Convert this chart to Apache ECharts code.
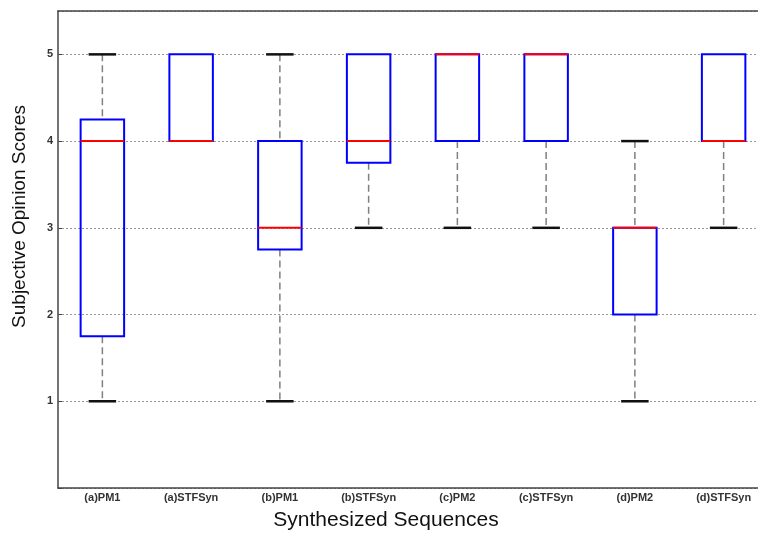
<!DOCTYPE html>
<html lang="en">
<head>
<meta charset="utf-8" />
<title>Subjective opinion scores</title>
<script src="https://cdn.jsdelivr.net/npm/echarts@6/dist/echarts.min.js"></script>
</head>
<body style="margin:0;background:#fff">
<div id="main" style="width:758px;height:540px;"></div>
<script>
// categories and box stats
var sequences = ['(a)PM1', '(a)STFSyn', '(b)PM1', '(b)STFSyn', '(c)PM2', '(c)STFSyn', '(d)PM2', '(d)STFSyn'];
var lowWhisker = [1, 4, 1, 3, 3, 3, 1, 3];
var lowerQuart = [1.75, 4, 2.75, 3.75, 4, 4, 2, 4];
var medians    = [4, 4, 3, 4, 5, 5, 3, 4];
var upperQuart = [4.25, 5, 4, 5, 5, 5, 3, 5];
var highWhisker = [5, 5, 5, 5, 5, 5, 4, 5];

var boxData = sequences.map(function (s, i) {
  return [i, lowWhisker[i], lowerQuart[i], medians[i], upperQuart[i], highWhisker[i]];
});

function drawBox(params, api) {
  var i = api.value(0);
  var bw = api.size([1, 0])[0];
  var half = bw * 0.245;
  var capHalf = bw * 0.155;
  var pMin = api.coord([i, api.value(1)]);
  var pQ1 = api.coord([i, api.value(2)]);
  var pMed = api.coord([i, api.value(3)]);
  var pQ3 = api.coord([i, api.value(4)]);
  var pMax = api.coord([i, api.value(5)]);
  var cx = pMed[0];
  var kids = [];
  var dash = { stroke: '#808080', lineWidth: 1.5, lineDash: [7, 4] };
  var capStyle = { stroke: '#111', lineWidth: 2.5 };
  if (api.value(5) > api.value(4)) {
    kids.push({ type: 'line', shape: { x1: cx, y1: pMax[1], x2: cx, y2: pQ3[1] }, style: dash });
    kids.push({ type: 'line', shape: { x1: cx - capHalf, y1: pMax[1], x2: cx + capHalf, y2: pMax[1] }, style: capStyle });
  }
  if (api.value(1) < api.value(2)) {
    kids.push({ type: 'line', shape: { x1: cx, y1: pQ1[1], x2: cx, y2: pMin[1] }, style: dash });
    kids.push({ type: 'line', shape: { x1: cx - capHalf, y1: pMin[1], x2: cx + capHalf, y2: pMin[1] }, style: capStyle });
  }
  kids.push({ type: 'rect', shape: { x: cx - half, y: pQ3[1], width: half * 2, height: pQ1[1] - pQ3[1] },
    style: { fill: 'none', stroke: '#0000ff', lineWidth: 2 } });
  kids.push({ type: 'line', shape: { x1: cx - half, y1: pMed[1], x2: cx + half, y2: pMed[1] },
    style: { stroke: '#ff0000', lineWidth: 2 } });
  return { type: 'group', children: kids };
}

var myChart = echarts.init(document.getElementById('main'));
var axisColor = '#444';
var option = {
  animation: false,
  backgroundColor: '#fff',
  textStyle: { fontFamily: 'Liberation Sans, Arial, sans-serif' },
  // plot runs past the right edge of the picture, as in the cropped original
  grid: { left: 58, top: 11, width: 710, height: 477, containLabel: false, outerBoundsMode: 'none' },
  xAxis: [{
    type: 'category',
    data: sequences,
    name: 'Synthesized Sequences',
    nameLocation: 'middle',
    nameGap: 22,
    nameTextStyle: { fontSize: 21, color: '#111', padding: [0, 54, 0, 0] },
    axisLine: { lineStyle: { color: axisColor, width: 1.5 } },
    axisTick: { inside: true, alignWithLabel: true, length: 5, lineStyle: { color: axisColor } },
    axisLabel: { fontSize: 11, fontWeight: 'bold', color: '#333', margin: 4, hideOverlap: false },
    splitLine: { show: false }
  }, {
    type: 'category',
    data: sequences,
    position: 'top',
    axisLine: { lineStyle: { color: axisColor, width: 1.5 } },
    axisTick: { inside: true, alignWithLabel: true, length: 5, lineStyle: { color: axisColor } },
    axisLabel: { show: false }
  }],
  yAxis: {
    type: 'value',
    min: 0,
    max: 5.5,
    interval: 1,
    name: 'Subjective Opinion Scores',
    nameLocation: 'middle',
    nameRotate: 90,
    nameGap: 29,
    nameTextStyle: { fontSize: 19, color: '#111', padding: [0, 0, 0, 66] },
    axisLine: { show: true, lineStyle: { color: axisColor, width: 1.5 } },
    axisTick: { show: true, inside: true, length: 4, lineStyle: { color: axisColor } },
    axisLabel: {
      fontSize: 11, fontWeight: 'bold', color: '#333', margin: 5, showMaxLabel: false,
      formatter: function (v) { return v === 0 ? '' : String(v); }
    },
    splitLine: { lineStyle: { color: '#999', type: [2, 2], width: 1 } }
  },
  series: [{
    type: 'custom',
    renderItem: drawBox,
    data: boxData,
    encode: { x: 0, y: [1, 2, 3, 4, 5] },
    z: 5
  }]
};
myChart.setOption(option);
</script>
</body>
</html>
